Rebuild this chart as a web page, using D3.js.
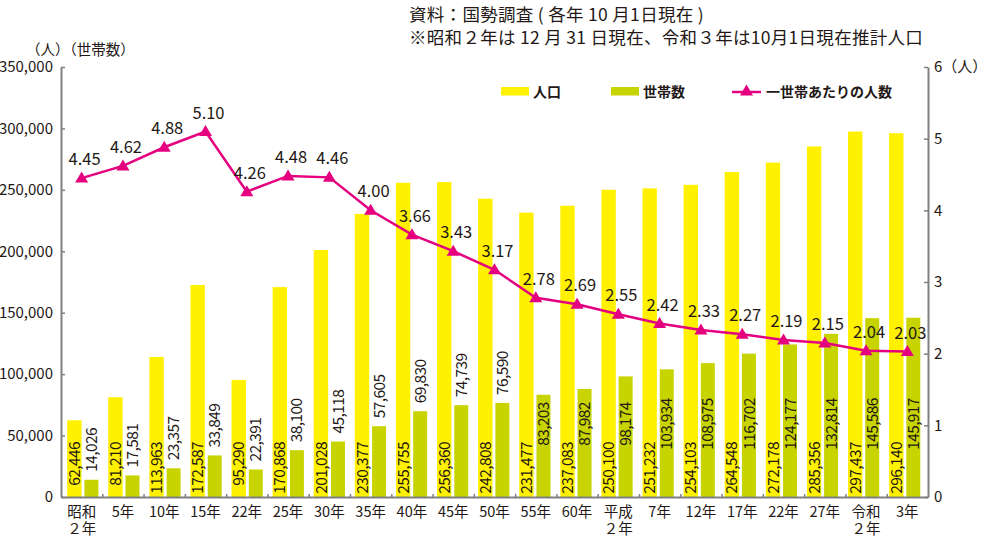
<!DOCTYPE html>
<html><head><meta charset="utf-8">
<script src="https://cdn.jsdelivr.net/npm/d3@7"></script>
<style>
body{margin:0;background:#fff;}
svg{display:block;font-family:"Noto Sans CJK JP","Noto Sans",sans-serif;}
</style></head>
<body>
<svg id="chart" width="986" height="539"></svg>
<script>
const categories = ["昭和\n２年","5年","10年","15年","22年","25年","30年","35年","40年","45年","50年","55年","60年","平成\n２年","7年","12年","17年","22年","27年","令和\n２年","3年"];
const population = [62446,81210,113963,172587,95290,170868,201028,230377,255755,256360,242808,231477,237083,250100,251232,254103,264548,272178,285356,297437,296140];
const households = [14026,17581,23357,33849,22391,38100,45118,57605,69830,74739,76590,83203,87982,98174,103934,108975,116702,124177,132814,145586,145917];
const perHousehold = [4.45,4.62,4.88,5.10,4.26,4.48,4.46,4.00,3.66,3.43,3.17,2.78,2.69,2.55,2.42,2.33,2.27,2.19,2.15,2.04,2.03];
const leftTicks = [0,50000,100000,150000,200000,250000,300000,350000];
const rightTicks = [0,1,2,3,4,5,6];
const titleLines = ["資料：国勢調査 ( 各年 10 月1日現在 )","※昭和２年は 12 月 31 日現在、令和３年は10月1日現在推計人口"];
const legendItems = ["人口","世帯数","一世帯あたりの人数"];

const C = {yellow:"#FFF100", green:"#C8D400", magenta:"#E4007F", text:"#231815", axis:"#808080"};
const svg = d3.select("#chart");
const idx = d3.range(categories.length);

const x = d3.scaleBand().domain(idx).range([61,928]);
const xb = d3.scaleBand().domain(idx).range([61,924]);
const y = d3.scaleLinear().domain([0,350000]).range([497,67]);
const y2 = d3.scaleLinear().domain([0,6]).range([497,67]);

// titles
svg.selectAll("text.title").data(titleLines).join("text")
  .attr("class","title")
  .attr("x",409).attr("y",(d,i)=>21+i*22.5)
  .attr("font-size",17.5).attr("letter-spacing",0.3).attr("fill",C.text).text(d=>d);

svg.append("text").attr("x",26).attr("y",55).attr("font-size",14.5).attr("fill",C.text).text("（人）（世帯数）");

// bars
const bw = xb.bandwidth();
svg.append("g").selectAll("rect").data(population).join("rect")
  .attr("x",(d,i)=>xb(i)+bw*0.15).attr("width",bw*0.35)
  .attr("y",d=>y(d)).attr("height",d=>y(0)-y(d)).attr("fill",C.yellow);
svg.append("g").selectAll("rect").data(households).join("rect")
  .attr("x",(d,i)=>xb(i)+bw*0.57).attr("width",bw*0.34)
  .attr("y",d=>y(d)).attr("height",d=>y(0)-y(d)).attr("fill",C.green);

// bar labels
const fmt = d3.format(",");
svg.append("g").selectAll("text").data(population).join("text")
  .attr("transform",(d,i)=>`translate(${xb(i)+bw*0.325},${y(0)-55}) rotate(-90)`)
  .attr("text-anchor","end").attr("dy","0.36em")
  .attr("font-size",15.5).attr("letter-spacing",-0.6).attr("fill",C.text).text(d=>fmt(d));
svg.append("g").selectAll("text").data(households).join("text")
  .attr("transform",(d,i)=>{
     const cx = xb(i)+bw*0.74;
     const yy = d>80000 ? y(0)-73 : y(d)-8;
     return `translate(${cx},${yy}) rotate(-90)`;})
  .attr("text-anchor",d=>d>80000?"middle":"start").attr("dy","0.36em")
  .attr("font-size",15.5).attr("letter-spacing",-0.6).attr("fill",C.text).text(d=>fmt(d));

// axes
const axL = svg.append("g").attr("transform","translate(61,0)")
  .call(d3.axisLeft(y).tickValues(leftTicks).tickFormat(fmt).tickSize(-4).tickSizeOuter(0).tickPadding(8));
const axR = svg.append("g").attr("transform","translate(928,0)")
  .call(d3.axisRight(y2).tickValues(rightTicks).tickFormat(d=>d===6?"6（人）":d).tickSize(-4).tickSizeOuter(0).tickPadding(6));
const xl = d3.scaleLinear().domain([0,categories.length]).range([61,928]);
const axB = svg.append("g").attr("transform","translate(0,497)")
  .call(d3.axisBottom(xl).tickValues(d3.range(1,categories.length)).tickFormat("").tickSize(-3).tickSizeOuter(0));
[axL,axR,axB].forEach(g=>{
  g.select(".domain").attr("stroke",C.axis).attr("stroke-width",2);
  g.selectAll(".tick line").attr("stroke",C.axis).attr("stroke-width",1.5);
  g.selectAll(".tick text").attr("fill",C.text).attr("font-size",15).attr("font-family","'Noto Sans CJK JP',sans-serif");
});

// category labels (one text element per line)
const catLines = [];
categories.forEach((c,i)=>c.split("\n").forEach((s,j)=>catLines.push({i,j,s})));
svg.append("g").selectAll("text").data(catLines).join("text")
  .attr("x",d=>x(d.i)+x.bandwidth()/2).attr("y",d=>517+d.j*16.5)
  .attr("text-anchor","middle").attr("font-size",14.5).attr("fill",C.text).text(d=>d.s);

// line
const px = i=>x(i)+x.bandwidth()/2;
svg.append("path").datum(perHousehold)
  .attr("d",d3.line().x((d,i)=>px(i)).y(d=>y2(d)))
  .attr("fill","none").attr("stroke",C.magenta).attr("stroke-width",2.5);
const tri = "M0,-6.5L6.5,4.5L-6.5,4.5Z";
svg.append("g").selectAll("path").data(perHousehold).join("path")
  .attr("d",tri).attr("transform",(d,i)=>`translate(${px(i)},${y2(d)})`).attr("fill",C.magenta);
svg.append("g").selectAll("text").data(perHousehold).join("text")
  .attr("x",(d,i)=>px(i)+3).attr("y",d=>y2(d)-13)
  .attr("text-anchor","middle").attr("font-size",16.5).attr("fill",C.text)
  .text(d=>d.toFixed(2));

// legend
const lg = svg.append("g");
lg.append("rect").attr("x",501).attr("y",87).attr("width",28).attr("height",8.5).attr("fill",C.yellow);
lg.append("rect").attr("x",611).attr("y",87).attr("width",28).attr("height",8.5).attr("fill",C.green);
lg.append("line").attr("x1",732).attr("x2",761).attr("y1",92).attr("y2",92).attr("stroke",C.magenta).attr("stroke-width",2.5);
lg.append("path").attr("d",tri).attr("transform","translate(746.5,91)").attr("fill",C.magenta);
lg.selectAll("text").data(legendItems).join("text")
  .attr("x",(d,i)=>[533,643,766][i]).attr("y",97)
  .attr("font-size",14).attr("font-weight","bold").attr("fill",C.text).text(d=>d);
</script>
</body></html>
